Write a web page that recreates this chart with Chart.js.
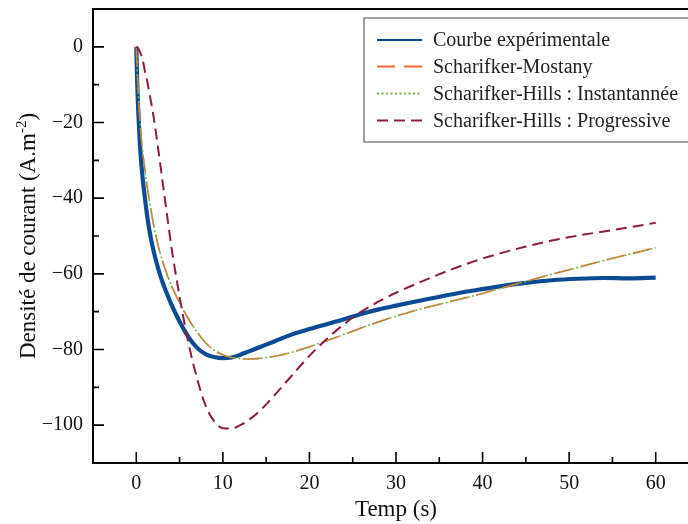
<!DOCTYPE html>
<html>
<head>
<meta charset="utf-8">
<script src="https://cdn.jsdelivr.net/npm/chart.js@4.4.1/dist/chart.umd.min.js"></script>
<style>
html, body { margin: 0; padding: 0; background: #fff; overflow: hidden; }
#wrap { width: 720px; height: 524px; }
</style>
</head>
<body>
<div id="wrap"><canvas id="myChart" width="720" height="524"></canvas></div>
<script>
// donnees
let temps = [0, 0.1, 0.25, 0.5, 0.75, 1, 1.25, 1.5, 2, 2.5, 3, 3.5, 4, 5, 6, 7, 8, 9, 10, 11, 12, 13, 14,
	16, 18, 20, 22, 24, 26, 28, 30, 33, 36, 39, 42, 45, 48, 51, 54, 57, 60];

let courbeExp = [0, -9, -18, -28.5, -35, -40, -44.5, -48.3, -54, -58.4, -62, -65, -67.8, -72.6, -76.6,
	-79.5, -81.2, -82, -82.3, -82.1, -81.4, -80.5, -79.6, -77.8, -76, -74.6, -73.3, -72, -70.6, -69.4,
	-68.4, -67, -65.6, -64.4, -63.3, -62.4, -61.7, -61.3, -61.1, -61.2, -61];

let scharifkerMostany = [0, -6, -13, -22, -28, -32.5, -36.8, -40.5, -47, -52.3, -56.4, -59.8, -62.8, -67.6, -71.8,
	-75.3, -78.2, -80.2, -81.4, -82.1, -82.4, -82.5, -82.4, -81.8, -80.7, -79.3, -77.7, -76, -74.3, -72.7,
	-71.2, -69.2, -67.5, -65.8, -63.9, -62, -60.1, -58.3, -56.5, -54.8, -53.1];

let shInstantanee = [0, -6, -13, -22, -28, -32.5, -36.8, -40.5, -47, -52.3, -56.4, -59.8, -62.8, -67.6, -71.8,
	-75.3, -78.2, -80.2, -81.4, -82.1, -82.4, -82.5, -82.4, -81.8, -80.7, -79.3, -77.7, -76, -74.3, -72.7,
	-71.2, -69.2, -67.5, -65.8, -63.9, -62, -60.1, -58.3, -56.5, -54.8, -53.1];

let shProgressive = [0, -0.1, -0.5, -1.8, -3.5, -6.5, -9, -12, -18.5, -26.5, -35, -43.5, -52, -66, -78,
	-87.5, -94.8, -99, -100.8, -100.9, -100, -98.6, -96.8, -92, -86.8, -81.7, -77.2, -73.3, -70, -67.3,
	-65, -62, -59.2, -56.7, -54.6, -52.8, -51.2, -49.9, -48.8, -47.7, -46.5];

let xTicks = [0, 10, 20, 30, 40, 50, 60];
let xMinor = [5, 15, 25, 35, 45, 55];
let yTicks = [-100, -80, -60, -40, -20, 0];
let yMinor = [-90, -70, -50, -30, -10];

let labels = ['Courbe expérimentale', 'Scharifker-Mostany', 'Scharifker-Hills : Instantannée', 'Scharifker-Hills : Progressive'];
let colorHex = ['#0b4b93', '#f36a35', '#74b43c', '#8b1c46'];
let dashes = [[], [18, 9], [2, 2.5], [11, 6]];

function pts(vals) {
	return temps.map((t, i) => ({x: t, y: vals[i]}));
}

const serif = '"Liberation Serif", "Times New Roman", serif';

// cadre, graduations interieures, legende et titres
let cadre = {
	id: 'cadre',
	afterDraw(chart) {
		let c = chart.ctx, a = chart.chartArea;
		let sx = chart.scales.x, sy = chart.scales.y;
		c.save();
		c.strokeStyle = '#000';
		c.lineWidth = 1.6;
		c.beginPath();
		yTicks.forEach(v => { let p = sy.getPixelForValue(v); c.moveTo(a.left, p); c.lineTo(a.left + 11, p); });
		yMinor.forEach(v => { let p = sy.getPixelForValue(v); c.moveTo(a.left, p); c.lineTo(a.left + 6, p); });
		xTicks.forEach(v => { let p = sx.getPixelForValue(v); c.moveTo(p, a.bottom); c.lineTo(p, a.bottom - 11); });
		xMinor.forEach(v => { let p = sx.getPixelForValue(v); c.moveTo(p, a.bottom); c.lineTo(p, a.bottom - 6); });
		c.stroke();

		c.lineWidth = 2;
		c.strokeRect(a.left, a.top, a.right - a.left, a.bottom - a.top);

		// legende
		let lx = a.right - 335, ly = a.top + 9;
		c.fillStyle = '#fff';
		c.fillRect(lx, ly, 340, 124);
		c.strokeStyle = '#666';
		c.lineWidth = 1.2;
		c.strokeRect(lx, ly, 340, 124);
		let rows = [22, 48.5, 75.5, 102.5];
		c.font = '20px ' + serif;
		c.textBaseline = 'middle';
		c.textAlign = 'left';
		labels.forEach((lab, i) => {
			let y = ly + rows[i];
			c.beginPath();
			c.setLineDash(dashes[i]);
			c.strokeStyle = colorHex[i];
			c.lineWidth = i == 0 ? 2.2 : 1.8;
			c.moveTo(lx + 13, y);
			c.lineTo(lx + 58, y);
			c.stroke();
			c.setLineDash([]);
			c.fillStyle = '#222';
			c.fillText(lab, lx + 69, y + 1);
		});

		// titres des axes
		c.fillStyle = '#111';
		c.font = '23px ' + serif;
		c.textAlign = 'center';
		c.textBaseline = 'alphabetic';
		c.fillText('Temp (s)', (a.left + a.right) / 2, 516);

		c.translate(35, (a.top + a.bottom) / 2);
		c.rotate(-Math.PI / 2);
		let t1 = 'Densité de courant (A.m', t2 = '-2', t3 = ')';
		c.font = '23px ' + serif;
		let w1 = c.measureText(t1).width, w3 = c.measureText(t3).width;
		c.font = '15px ' + serif;
		let w2 = c.measureText(t2).width;
		let x0 = -(w1 + w2 + w3) / 2;
		c.textAlign = 'left';
		c.font = '23px ' + serif;
		c.fillText(t1, x0, 0);
		c.font = '15px ' + serif;
		c.fillText(t2, x0 + w1, -9);
		c.font = '23px ' + serif;
		c.fillText(t3, x0 + w1 + w2, 0);
		c.restore();
	}
};

let ctx = document.getElementById('myChart').getContext('2d');

let myChart = new Chart(ctx, {
	type: 'line',
	data: {
		datasets: [
			{label: labels[0], data: pts(courbeExp), borderColor: colorHex[0], borderWidth: 4.2, borderDash: dashes[0], order: 4},
			{label: labels[1], data: pts(scharifkerMostany), borderColor: colorHex[1], borderWidth: 1.6, borderDash: dashes[1], order: 3},
			{label: labels[2], data: pts(shInstantanee), borderColor: colorHex[2], borderWidth: 1.6, borderDash: dashes[2], order: 2},
			{label: labels[3], data: pts(shProgressive), borderColor: colorHex[3], borderWidth: 2, borderDash: dashes[3], order: 1}
		]
	},
	options: {
		responsive: false,
		animation: false,
		layout: { padding: { top: 9, right: 21, left: 0, bottom: 0 } },
		elements: {
			point: { radius: 0 },
			line: { cubicInterpolationMode: 'monotone', fill: false }
		},
		plugins: {
			legend: { display: false },
			tooltip: { enabled: false }
		},
		scales: {
			x: {
				type: 'linear',
				min: -5,
				max: 65,
				grid: { display: false, drawTicks: false },
				border: { display: false },
				afterBuildTicks: s => { s.ticks = xTicks.map(v => ({value: v})); },
				afterFit: s => { s.height = 61; s.paddingLeft = 0; s.paddingRight = 0; },
				ticks: {
					padding: 9,
					maxRotation: 0,
					color: '#111',
					font: { family: serif, size: 20 }
				}
			},
			y: {
				min: -110,
				max: 10,
				grid: { display: false, drawTicks: false },
				border: { display: false },
				afterBuildTicks: s => { s.ticks = yTicks.map(v => ({value: v})); },
				afterFit: s => { s.width = 93; s.paddingTop = 0; s.paddingBottom = 0; },
				ticks: {
					padding: 10,
					color: '#111',
					font: { family: serif, size: 20 },
					callback: v => String(v).replace('-', '\u2212')
				}
			}
		}
	},
	plugins: [cadre]
});
</script>
</body>
</html>
